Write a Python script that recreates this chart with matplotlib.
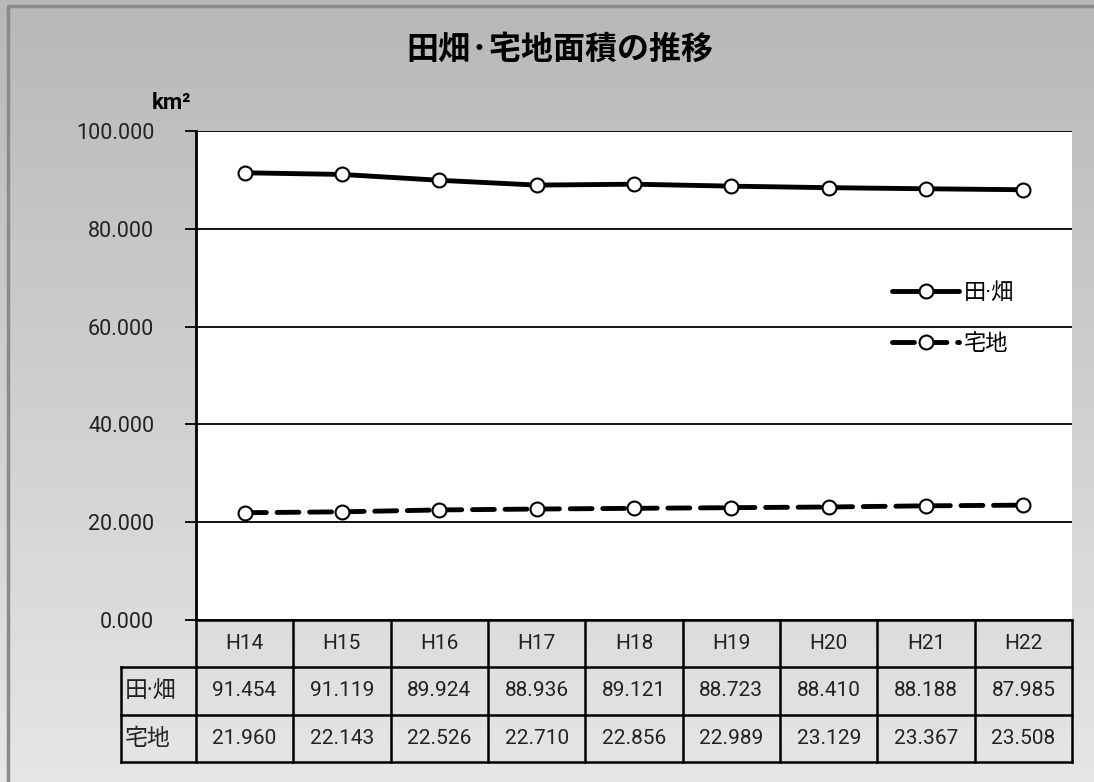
import numpy as np
import matplotlib.pyplot as plt
import matplotlib.transforms as mtransforms
from matplotlib.colors import LinearSegmentedColormap

plt.rcParams['font.family'] = ['Roboto', 'Noto Sans CJK JP', 'DejaVu Sans']

years = ['H14', 'H15', 'H16', 'H17', 'H18', 'H19', 'H20', 'H21', 'H22']
farm = [91.454, 91.119, 89.924, 88.936, 89.121, 88.723, 88.410, 88.188, 87.985]
house = [21.960, 22.143, 22.526, 22.710, 22.856, 22.989, 23.129, 23.367, 23.508]
series_names = ['田·畑', '宅地']
yticks = [0, 20, 40, 60, 80, 100]

fig = plt.figure(figsize=(10.94, 7.82), dpi=100)

# gradient background
bg = fig.add_axes([0, 0, 1, 1], zorder=-10)
grad = np.linspace(0, 1, 256).reshape(-1, 1)
bg.imshow(grad, aspect='auto', cmap=LinearSegmentedColormap.from_list('g', ['#b8b8b8', '#e6e6e6']),
          extent=[0, 1, 0, 1], origin='upper')
bg.plot([0.0075, 0.0075, 1.5], [-0.5, 0.9925, 0.9925], color='#8a8a8a', lw=2.5)
bg.set_xlim(0, 1)
bg.set_ylim(0, 1)
bg.axis('off')

ax = fig.add_axes([0.179, 0.207, 0.801, 0.6255])
ax.set_facecolor('white')
x = np.arange(len(years))
ax.plot(x, farm, color='black', lw=3.5, marker='o', ms=10, mfc='white', mec='black',
        mew=1.5, label=series_names[0], solid_capstyle='round')
ax.plot(x, house, color='black', lw=3.5, ls=(0, (4.5, 2.2)), marker='o', ms=10, mfc='white',
        mec='black', mew=1.5, label=series_names[1], dash_capstyle='round')

ax.set_xlim(-0.5, len(years) - 0.5)
ax.set_ylim(0, 100)
ax.set_yticks(yticks)
ax.set_yticklabels([f'{v:.3f}' for v in yticks], fontsize=15.5, color='#222222')
ax.set_xticks([])
for v in yticks:
    ax.axhline(v, color='black', lw=1.3, zorder=0)
for s in ['top', 'right', 'bottom']:
    ax.spines[s].set_visible(False)
ax.spines['left'].set_linewidth(2)
ax.tick_params(axis='y', length=8, width=1.3, pad=22)

leg = ax.legend(loc='upper left', bbox_to_anchor=(0.772, 0.731), frameon=False, fontsize=16,
                handlelength=3.0, handletextpad=0.2, labelspacing=1.35)

# data table below the plot
row_h = 0.0965
lab_w = 0.77
blend = mtransforms.blended_transform_factory(ax.transData, ax.transAxes)
lw_t = 1.8
left = -0.5
right = len(years) - 0.5
ax.plot([left, right], [0, 0], transform=blend, color='black', lw=lw_t, clip_on=False)
for r in range(1, 4):
    ax.plot([left - lab_w, right], [-r * row_h] * 2, transform=blend,
            color='black', lw=lw_t, clip_on=False)
for i in range(len(years) + 1):
    ax.plot([i - 0.5] * 2, [0, -3 * row_h], transform=blend, color='black', lw=lw_t, clip_on=False)
ax.plot([left - lab_w] * 2, [-row_h, -3 * row_h], transform=blend, color='black', lw=lw_t,
        clip_on=False)

for i, yr in enumerate(years):
    ax.text(i, -0.5 * row_h, yr, transform=blend, ha='center', va='center', fontsize=15,
            color='#222222')
    ax.text(i, -1.5 * row_h, f'{farm[i]:.3f}', transform=blend, ha='center', va='center',
            fontsize=15, color='#222222')
    ax.text(i, -2.5 * row_h, f'{house[i]:.3f}', transform=blend, ha='center', va='center',
            fontsize=15, color='#222222')
for r, name in enumerate(series_names):
    ax.text(left - lab_w + 0.04, -(1.5 + r) * row_h, name, transform=blend, ha='left',
            va='center', fontsize=16.5, color='#222222')

fig.text(0.512, 0.936, '田畑·宅地面積の推移', ha='center', va='center', fontsize=23,
         fontweight='bold', family=['Noto Sans CJK JP'])
fig.text(0.157, 0.868, 'km²', ha='center', va='center', fontsize=16, fontweight='bold')

fig.savefig('out.png', dpi=100)
